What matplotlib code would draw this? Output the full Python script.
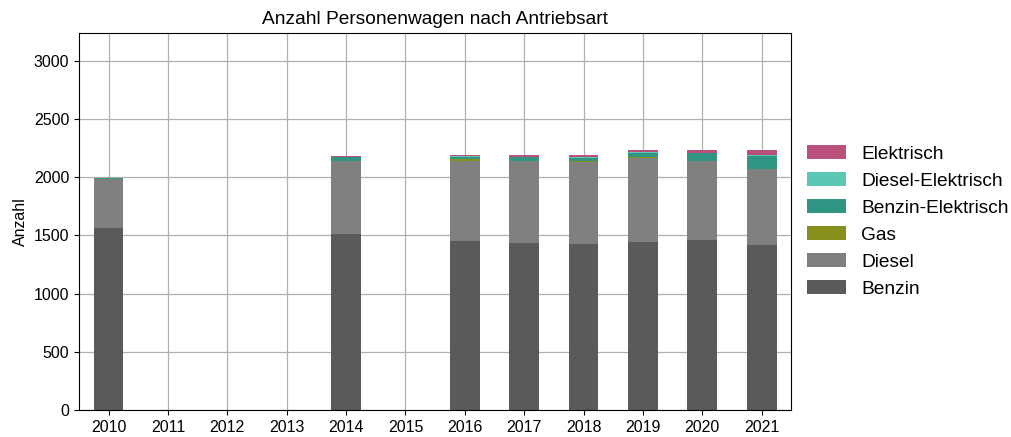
import matplotlib.pyplot as plt
import numpy as np

plt.rcParams['font.family'] = ['Liberation Sans', 'DejaVu Sans']

jahre = ["2010", "2011", "2012", "2013", "2014", "2015",
         "2016", "2017", "2018", "2019", "2020", "2021"]

# Werte je Antriebsart (0 = keine Daten)
benzin = [1565, 0, 0, 0, 1515, 0, 1455, 1437, 1426, 1443, 1460, 1417]
diesel = [415, 0, 0, 0, 625, 0, 687, 700, 708, 724, 676, 650]
gas = [0, 0, 0, 0, 0, 0, 12, 2, 5, 3, 6, 3]
benzin_elektrisch = [10, 0, 0, 0, 33, 0, 22, 34, 28, 40, 63, 109]
diesel_elektrisch = [0, 0, 0, 0, 0, 0, 8, 2, 3, 5, 5, 8]
elektrisch = [0, 0, 0, 0, 5, 0, 8, 18, 20, 17, 23, 49]

serien = [
    ("Benzin", benzin, "#5a5a5a"),
    ("Diesel", diesel, "#808080"),
    ("Gas", gas, "#868e1c"),
    ("Benzin-Elektrisch", benzin_elektrisch, "#309582"),
    ("Diesel-Elektrisch", diesel_elektrisch, "#5cc8b3"),
    ("Elektrisch", elektrisch, "#b94f7b"),
]

fig, ax = plt.subplots(figsize=(10.12, 4.37), dpi=100)
fig.subplots_adjust(left=0.078, right=0.782, top=0.925, bottom=0.062)

x = np.arange(len(jahre))
bottom = np.zeros(len(jahre))
for name, werte, farbe in serien:
    werte = np.array(werte, dtype=float)
    ax.bar(x, werte, width=0.5, bottom=bottom, color=farbe, label=name, zorder=2)
    bottom += werte

ax.set_xticks(x)
ax.set_xticklabels(jahre, fontsize=11.5)
ax.tick_params(axis="y", labelsize=11.5)
ax.set_xlim(-0.5, len(jahre) - 0.5)
ax.set_ylim(0, 3240)
ax.set_ylabel("Anzahl", fontsize=11.5)
ax.set_title("Anzahl Personenwagen nach Antriebsart", fontsize=13.8)
ax.grid(True, color="#b0b0b0", linewidth=0.9, zorder=0)
ax.set_axisbelow(True)

handles, labels = ax.get_legend_handles_labels()
ax.legend(handles[::-1], labels[::-1], loc="center left", bbox_to_anchor=(1.0, 0.5),
          borderaxespad=0.4, frameon=False, fontsize=13.8, handlelength=2.05)

fig.savefig("out.png", dpi=100)
